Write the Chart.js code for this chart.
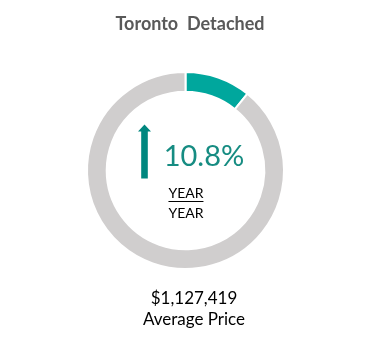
<!DOCTYPE html>
<html>
<head>
<meta charset="utf-8">
<script src="https://cdn.jsdelivr.net/npm/chart.js@4"></script>
<style>
  html, body { margin: 0; padding: 0; background: #fff; }
  #wrap { position: relative; width: 382px; height: 357px; overflow: hidden; }
  #c { position: absolute; left: 0; top: 0; }
  .t { position: absolute; white-space: nowrap; font-family: Lato, "Open Sans", sans-serif; transform: translateX(-50%); line-height: 1; }
  #title { left: 190px; top: 14px; font-size: 18px; font-weight: bold; color: #595959; }
  #pct { left: 204px; top: 140px; font-size: 29px; color: #168c82; }
  #y1 { left: 186px; top: 186px; font-size: 14px; color: #000; border-bottom: 1px solid #000; padding-bottom: 1px; }
  #y2 { left: 186px; top: 206px; font-size: 14px; color: #000; }
  #price { left: 194px; top: 289px; font-size: 17px; color: #000; }
  #avg { left: 194px; top: 310px; font-size: 17px; color: #000; }
</style>
</head>
<body>
<div id="wrap">
  <canvas id="c" width="382" height="357"></canvas>
  <div class="t" id="title">Toronto&nbsp; Detached</div>
  <div class="t" id="pct">10.8%</div>
  <div class="t" id="y1">YEAR</div>
  <div class="t" id="y2">YEAR</div>
  <div class="t" id="price">$1,127,419</div>
  <div class="t" id="avg">Average Price</div>
</div>
<script>
const categories = ['Year-over-year change', 'Remainder'];
const seriesValues = [10.8, 89.2];
const segmentColors = ['#00a79d', '#d0cece'];

const arrowPlugin = {
  id: 'arrow',
  afterDraw(chart) {
    const meta = chart.getDatasetMeta(0);
    const arc = meta.data[0];
    const cx = arc.x, cy = arc.y;
    const ctx = chart.ctx;
    const ax = cx - 41;
    ctx.save();
    ctx.fillStyle = '#00877f';
    ctx.beginPath();
    ctx.moveTo(ax, cy - 46);
    ctx.lineTo(ax + 6.5, cy - 39);
    ctx.lineTo(ax + 3.3, cy - 39);
    ctx.lineTo(ax + 3.3, cy + 8);
    ctx.lineTo(ax - 3.3, cy + 8);
    ctx.lineTo(ax - 3.3, cy - 39);
    ctx.lineTo(ax - 6.5, cy - 39);
    ctx.closePath();
    ctx.fill();
    ctx.restore();
  }
};

new Chart(document.getElementById('c'), {
  type: 'doughnut',
  data: {
    labels: categories,
    datasets: [{
      data: seriesValues,
      backgroundColor: segmentColors,
      borderColor: '#ffffff',
      borderWidth: 2,
      hoverOffset: 0
    }]
  },
  options: {
    responsive: false,
    animation: false,
    cutout: '80%',
    rotation: 0,
    layout: { padding: { top: 71, bottom: 87, left: 0, right: 11 } },
    plugins: {
      legend: { display: false },
      tooltip: { enabled: false },
      title: { display: false }
    }
  },
  plugins: [arrowPlugin]
});
</script>
</body>
</html>
